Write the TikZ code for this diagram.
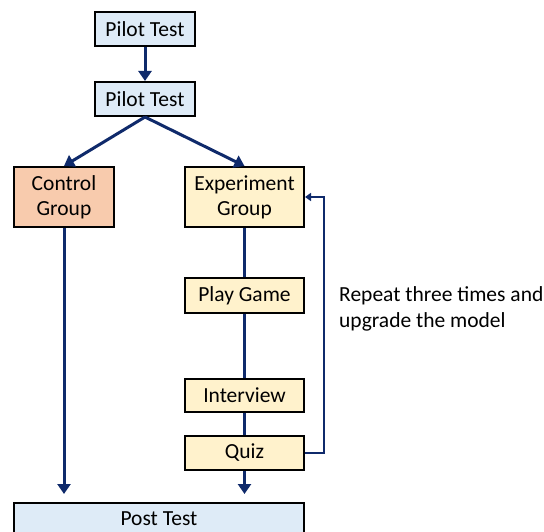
\documentclass[tikz,border=0pt]{standalone}
\usepackage{fontspec}
\setmainfont{Carlito}
\usetikzlibrary{arrows.meta}
\definecolor{bluefill}{HTML}{DEEBF7}
\definecolor{orangefill}{HTML}{F8CBAD}
\definecolor{yellowfill}{HTML}{FFF2CC}
\definecolor{navy}{HTML}{0F2A6B}
\begin{document}
\begin{tikzpicture}[x=1pt,y=-1pt,
  box/.style={draw=black,line width=2pt,inner sep=0pt,align=center,
    font=\fontsize{21.5}{25}\selectfont},
  conn/.style={draw=navy,line width=3pt},
  arr/.style={conn,-{Triangle[width=13pt,length=10pt]}},
  loop/.style={draw=navy,line width=2.2pt,-{Triangle[width=8pt,length=6pt]}}]
\clip (0,0) rectangle (544,532);
\fill[white] (0,0) rectangle (544,532);
\node[box,fill=bluefill,minimum width=100pt,minimum height=34pt] (p1) at (145,29) {Pilot Test};
\node[box,fill=bluefill,minimum width=100pt,minimum height=34pt] (p2) at (145,99) {Pilot Test};
\node[box,fill=orangefill,minimum width=100pt,minimum height=60pt] (cg) at (64,197) {Control\\Group};
\node[box,fill=yellowfill,minimum width=119pt,minimum height=60pt] (eg) at (244.5,197) {Experiment\\Group};
\node[box,fill=yellowfill,minimum width=119pt,minimum height=35pt] (pg) at (244.5,295.5) {Play Game};
\node[box,fill=yellowfill,minimum width=119pt,minimum height=33pt] (iv) at (244.5,395.5) {Interview};
\node[box,fill=yellowfill,minimum width=119pt,minimum height=34pt] (qz) at (244.5,453) {Quiz};
\node[box,fill=bluefill,minimum width=290pt,minimum height=32pt] (pt) at (159,519) {Post Test};
\node[align=left,anchor=west,inner sep=0pt,font=\fontsize{21.5}{26.5}\selectfont] (rp) at (339,309) {Repeat three times and\\upgrade the model};
\draw[arr] (p1.south) -- (p2.north);
\draw[arr] (p2.south) -- (cg.north);
\draw[arr] (p2.south) -- (eg.north);
\draw[arr,shorten >=8pt] (cg.south) -- (cg.south |- pt.north);
\draw[conn] (eg.south) -- (pg.north);
\draw[conn] (pg.south) -- (iv.north);
\draw[conn] (iv.south) -- (qz.north);
\draw[arr,shorten >=8pt] (qz.south) -- (qz.south |- pt.north);
\draw[loop] (qz.east) -- ++(19,0) |- (eg.east);
\end{tikzpicture}
\end{document}
